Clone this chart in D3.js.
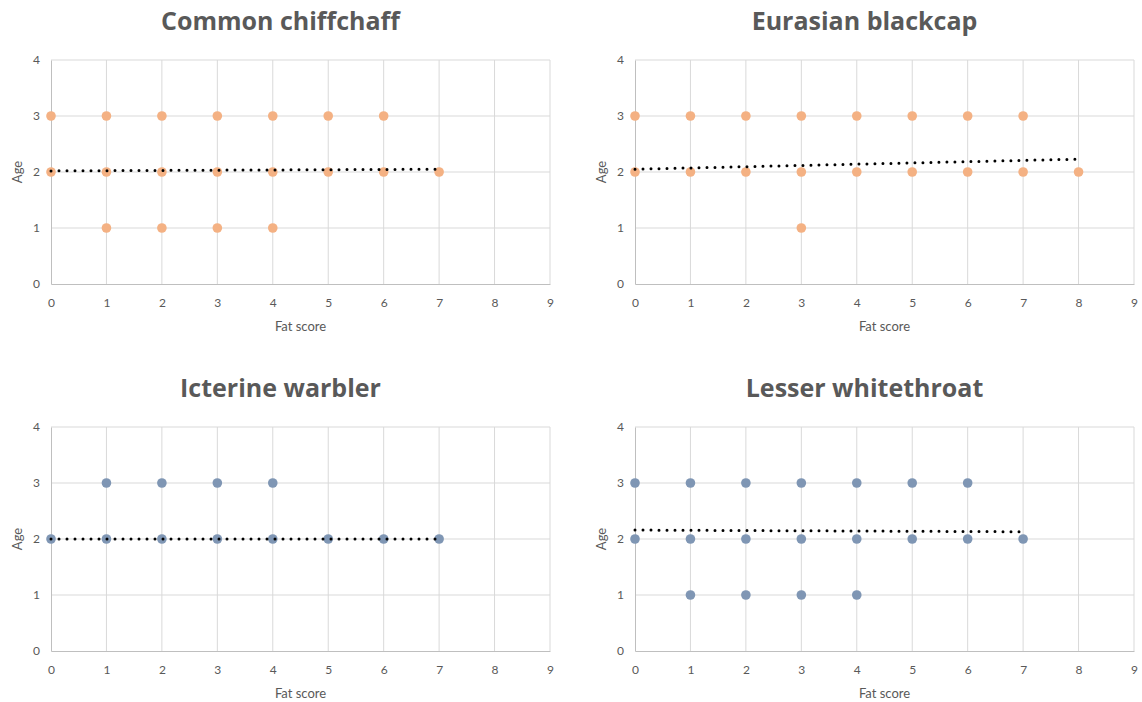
<!DOCTYPE html>
<html>
<head>
<meta charset="utf-8">
<script src="https://cdn.jsdelivr.net/npm/d3@7"></script>
<style>
  html, body { margin: 0; padding: 0; background: #fff; }
  svg { display: block; font-family: Lato, "Open Sans", sans-serif; }
</style>
</head>
<body>
<svg id="chart" width="1142" height="702"></svg>
<script>
// Species panels
const species = ["Common chiffchaff", "Eurasian blackcap", "Icterine warbler", "Lesser whitethroat"];

// Fat score observations grouped by age class, per species
const chiffchaffAge3 = [0, 1, 2, 3, 4, 5, 6];
const chiffchaffAge2 = [0, 1, 2, 3, 4, 5, 6, 7];
const chiffchaffAge1 = [1, 2, 3, 4];

const blackcapAge3 = [0, 1, 2, 3, 4, 5, 6, 7];
const blackcapAge2 = [0, 1, 2, 3, 4, 5, 6, 7, 8];
const blackcapAge1 = [3];

const icterineAge3 = [1, 2, 3, 4];
const icterineAge2 = [0, 1, 2, 3, 4, 5, 6, 7];
const icterineAge1 = [];

const whitethroatAge3 = [0, 1, 2, 3, 4, 5, 6];
const whitethroatAge2 = [0, 1, 2, 3, 4, 5, 6, 7];
const whitethroatAge1 = [1, 2, 3, 4];

// Linear trend endpoints [x, age]
const chiffchaffTrend = [[0, 2.02], [7, 2.05]];
const blackcapTrend = [[0, 2.05], [8, 2.23]];
const icterineTrend = [[0, 2.0], [7, 2.0]];
const whitethroatTrend = [[0, 2.16], [7, 2.13]];

const xTicks = [0, 1, 2, 3, 4, 5, 6, 7, 8, 9];
const yTicks = [0, 1, 2, 3, 4];

const panels = [
  { title: species[0], ages: [chiffchaffAge1, chiffchaffAge2, chiffchaffAge3], trend: chiffchaffTrend, color: "#F4B183", left: 51, top: 60 },
  { title: species[1], ages: [blackcapAge1, blackcapAge2, blackcapAge3], trend: blackcapTrend, color: "#F4B183", left: 635, top: 60 },
  { title: species[2], ages: [icterineAge1, icterineAge2, icterineAge3], trend: icterineTrend, color: "#7F96B4", left: 51, top: 427 },
  { title: species[3], ages: [whitethroatAge1, whitethroatAge2, whitethroatAge3], trend: whitethroatTrend, color: "#7F96B4", left: 635, top: 427 }
];

const plotW = 499, plotH = 224;
const svg = d3.select("#chart");
const textColor = "#595959";

panels.forEach(p => {
  const g = svg.append("g").attr("transform", `translate(${p.left},${p.top})`);
  const x = d3.scaleLinear().domain([0, 9]).range([0, plotW]);
  const y = d3.scaleLinear().domain([0, 4]).range([plotH, 0]);

  // gridlines
  g.append("g").selectAll("line.v").data(xTicks.slice(1)).join("line")
    .attr("x1", d => x(d)).attr("x2", d => x(d)).attr("y1", 0).attr("y2", plotH)
    .attr("stroke", "#d9d9d9").attr("stroke-width", 1);
  g.append("g").selectAll("line.h").data(yTicks.slice(1)).join("line")
    .attr("x1", 0).attr("x2", plotW).attr("y1", d => y(d)).attr("y2", d => y(d))
    .attr("stroke", "#d9d9d9").attr("stroke-width", 1);

  // axes
  const xAxis = d3.axisBottom(x).tickValues(xTicks).tickFormat(d3.format("d")).tickSize(0).tickPadding(14);
  const yAxis = d3.axisLeft(y).tickValues(yTicks).tickFormat(d3.format("d")).tickSize(0).tickPadding(11);
  const gx = g.append("g").attr("transform", `translate(0,${plotH})`).call(xAxis);
  const gy = g.append("g").call(yAxis);
  [gx, gy].forEach(a => {
    a.select(".domain").attr("stroke", "#bfbfbf").attr("stroke-width", 1);
    a.selectAll("text").attr("fill", textColor).style("font-size", "12px")
      .style("font-family", "Lato, 'Open Sans', sans-serif");
  });

  // points
  const pts = [];
  p.ages.forEach((xs, i) => xs.forEach(v => pts.push({ fat: v, age: i + 1 })));
  g.append("g").selectAll("circle").data(pts).join("circle")
    .attr("cx", d => x(d.fat)).attr("cy", d => y(d.age)).attr("r", 4.8)
    .attr("fill", p.color);

  // trendline
  g.append("path").datum(p.trend)
    .attr("d", d3.line().x(d => x(d[0])).y(d => y(d[1])))
    .attr("fill", "none").attr("stroke", "#000").attr("stroke-width", 3)
    .attr("stroke-linecap", "round").attr("stroke-dasharray", "0 8");

  // title
  g.append("text").attr("x", plotW / 2 - 20).attr("y", -30)
    .attr("text-anchor", "middle").attr("fill", textColor)
    .style("font-family", "'Open Sans', Lato, sans-serif")
    .style("font-size", "25px").style("font-weight", "bold")
    .text(p.title);

  // axis titles
  g.append("text").attr("x", plotW / 2).attr("y", plotH + 47)
    .attr("text-anchor", "middle").attr("fill", textColor).style("font-size", "13px")
    .text("Fat score");
  g.append("text").attr("transform", `translate(-29,${plotH / 2}) rotate(-90)`)
    .attr("text-anchor", "middle").attr("fill", textColor).style("font-size", "13px")
    .text("Age");
});
</script>
</body>
</html>
